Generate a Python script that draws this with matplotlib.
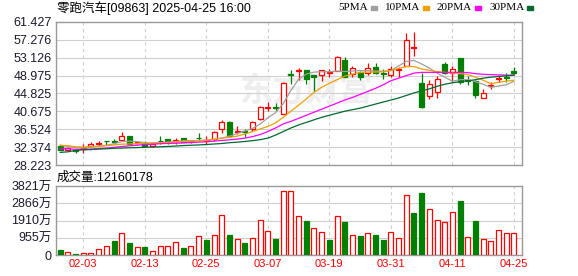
import matplotlib
matplotlib.use("Agg")
import matplotlib.pyplot as plt
import numpy as np

plt.rcParams['font.family'] = ['Liberation Sans', 'Noto Sans CJK SC']

title = "零跑汽车[09863] 2025-04-25 16:00"
vol_title = "成交量:12160178"

opens = [32.6, 31.7, 31.6, 31.9, 32.6, 33.0, 33.9, 33.7, 34.0, 34.9,
         33.3, 33.4, 32.6, 33.85, 34.2, 33.8, 34.4, 33.55, 34.5, 33.9,
         34.2, 36.5, 38.2, 35.9, 36.1, 36.5, 38.9, 41.5, 41.8, 40.1,
         49.4, 50.0, 50.3, 49.1, 49.1, 49.6, 50.0, 52.5, 49.3, 49.9,
         49.5, 51.0, 49.5, 49.1, 50.2, 51.3, 55.5, 47.3, 44.2, 45.1,
         51.7, 49.5, 53.0, 48.0, 47.7, 43.8, 46.5, 48.1, 48.6, 50.1]
highs = [32.8, 32.4, 31.9, 33.0, 33.5, 33.8, 33.9, 34.2, 35.8, 34.9,
         33.9, 33.9, 33.2, 35.0, 34.2, 34.5, 34.5, 33.8, 35.7, 34.9,
         36.1, 38.6, 38.5, 37.3, 36.5, 38.5, 41.9, 42.8, 42.6, 47.5,
         50.3, 50.8, 50.3, 49.1, 50.3, 50.6, 53.6, 53.2, 51.3, 50.0,
         51.8, 52.0, 50.5, 51.3, 51.0, 58.8, 59.1, 49.7, 47.9, 48.9,
         52.1, 51.2, 53.0, 48.8, 47.9, 45.9, 47.6, 48.8, 49.7, 51.0]
lows = [31.7, 31.6, 31.0, 31.1, 32.4, 32.7, 32.9, 33.0, 33.9, 33.1,
        33.0, 32.5, 32.5, 33.2, 33.1, 33.2, 33.5, 33.4, 33.7, 33.0,
        33.8, 35.7, 34.9, 35.5, 34.7, 36.1, 38.6, 40.8, 40.8, 40.1,
        47.1, 48.0, 47.1, 45.4, 47.7, 48.7, 50.0, 48.7, 48.7, 47.9,
        49.1, 49.3, 48.2, 48.7, 48.7, 51.3, 53.6, 41.5, 43.6, 43.7,
        49.3, 47.5, 47.1, 46.9, 43.7, 43.8, 45.9, 47.4, 47.5, 49.1]
closes = [31.8, 32.2, 31.5, 32.1, 33.2, 33.3, 33.8, 33.6, 35.0, 33.1,
          33.6, 32.6, 33.1, 33.75, 33.8, 34.0, 33.6, 33.7, 34.4, 34.1,
          35.8, 38.2, 34.9, 36.2, 35.9, 38.2, 41.6, 41.8, 41.5, 47.3,
          49.2, 50.3, 48.2, 48.7, 50.3, 49.8, 53.2, 48.7, 50.7, 48.7,
          50.8, 49.6, 49.3, 50.5, 50.6, 57.3, 55.7, 41.8, 47.1, 48.3,
          49.7, 50.4, 47.5, 47.8, 44.5, 45.0, 46.8, 48.4, 48.45, 49.5]
prev_close = 32.5

# volume in 万股
volumes = [277, 166, 55, 111, 111, 332, 499, 776, 1200, 665,
           425, 443, 203, 480, 480, 720, 388, 480, 1034, 831,
           1090, 2198, 1108, 868, 665, 924, 1921, 1311, 868, 3528,
           3528, 2143, 1884, 1478, 1256, 831, 2143, 1829, 1090, 1053,
           1219, 1090, 831, 1256, 924, 3306, 2327, 3417, 2530, 1921,
           1810, 2364, 2992, 979, 1884, 868, 757, 1367, 1201, 1216]

ma5 = [32.86, 32.53, 32.27, 32.15, 32.34, 32.58, 32.81, 33.17, 33.64, 33.76,
       33.64, 33.40, 33.28, 33.40, 33.52, 33.64, 33.87, 33.87, 33.87, 33.99,
       34.16, 34.46, 34.93, 35.52, 36.11, 36.71, 37.76, 39.18, 40.36, 42.48,
       45.55, 48.15, 49.32, 49.80, 49.87, 49.87, 50.03, 49.92, 50.03, 50.15,
       50.15, 50.03, 49.99, 50.15, 51.21, 52.29, 52.51, 51.68, 50.74, 49.56,
       48.62, 47.67, 48.03, 48.08, 47.56, 46.97, 46.26, 46.57, 46.85, 47.67]
ma10 = [32.74, 32.69, 32.46, 32.41, 32.46, 32.58, 32.69, 32.88, 33.05, 33.12,
        33.17, 33.28, 33.35, 33.40, 33.47, 33.52, 33.64, 33.76, 33.87, 33.99,
        34.23, 34.46, 34.63, 34.93, 35.41, 35.99, 36.59, 37.17, 38.00, 39.30,
        40.71, 42.13, 43.55, 45.08, 46.26, 47.20, 48.03, 48.85, 49.32, 49.68,
        49.80, 49.80, 49.87, 50.15, 50.62, 51.09, 51.09, 50.51, 50.20, 49.92,
        49.73, 49.56, 49.44, 49.21, 48.62, 47.91, 47.08, 47.44, 47.67, 47.91]
ma20 = [31.99, 31.99, 31.87, 31.87, 31.92, 32.03, 32.15, 32.34, 32.51, 32.69,
        32.81, 32.98, 33.05, 33.17, 33.24, 33.28, 33.35, 33.45, 33.52, 33.64,
        33.76, 33.92, 34.06, 34.23, 34.46, 34.82, 35.29, 35.99, 36.82, 37.76,
        38.35, 39.06, 39.77, 40.48, 41.19, 41.89, 42.60, 43.31, 43.90, 44.61,
        45.31, 46.02, 46.85, 47.79, 48.38, 48.97, 49.56, 49.73, 49.73, 49.73,
        49.73, 49.73, 49.73, 49.68, 49.44, 49.28, 49.21, 49.14, 49.09, 49.09]
ma30 = [31.16, 31.28, 31.63, 31.75, 31.80, 31.92, 31.99, 32.10, 32.15, 32.22,
        32.27, 32.34, 32.39, 32.46, 32.53, 32.62, 32.74, 32.81, 32.88, 32.98,
        33.10, 33.21, 33.40, 33.52, 33.68, 33.87, 34.11, 34.46, 35.17, 35.99,
        36.82, 37.53, 38.12, 38.71, 39.30, 39.77, 40.24, 40.71, 41.07, 41.42,
        41.89, 42.37, 42.84, 43.31, 43.78, 44.37, 44.96, 45.43, 45.90, 46.49,
        46.97, 47.32, 47.56, 47.79, 48.03, 48.38, 48.62, 48.78, 48.92, 49.09]

date_ticks = [3, 11, 19, 27, 35, 43, 51, 59]
date_labels = ["02-03", "02-13", "02-25", "03-07", "03-19", "03-31", "04-11", "04-25"]
price_ticks = [28.223, 32.374, 36.524, 40.675, 44.825, 48.975, 53.126, 57.276, 61.427]
vol_ticks = [0, 955, 1910, 2866, 3821]
vol_labels = ["0", "955万", "1910万", "2866万", "3821万"]

ma_names = ["5PMA", "10PMA", "20PMA", "30PMA"]
ma_colors = ["#a0a0a0", "#f0a000", "#ff00ff", "#006a30"]

RED = "#ff0000"
GREEN = "#008000"
GRID = "#d0d0d0"
FRAME = "#999999"

fig = plt.figure(figsize=(5.78, 2.76), dpi=100)
ax = fig.add_axes([56 / 578, 1 - 165 / 276, 466 / 578, 143 / 276])
axv = fig.add_axes([56 / 578, 1 - 255 / 276, 466 / 578, 69 / 276])

x = np.arange(len(opens))
o = np.array(opens); c = np.array(closes)
h = np.array(highs); l = np.array(lows)
up = c >= o
w = 0.65

for a in (ax, axv):
    a.set_xlim(-0.55, len(opens) + 0.05)
    for s in a.spines.values():
        s.set_color(FRAME)
        s.set_linewidth(1)
    a.set_xticks(date_ticks)
    for t in date_ticks:
        a.axvline(t, color=GRID, lw=0.8, ls=(0, (3, 3)), zorder=0)
    a.tick_params(length=0, pad=3)

# watermark
ax.text(32, 45.2, "东方财富", fontsize=24, color="#eeeeee", weight="bold",
        ha="center", va="center", zorder=0, family=['Noto Sans CJK SC'], style='italic')

ax.set_ylim(price_ticks[0], price_ticks[-1])
ax.set_yticks(price_ticks)
ax.set_yticklabels([f"{v:.3f}" for v in price_ticks], fontsize=9, color="#1a1a2e")
for v in price_ticks[1:-1]:
    ax.axhline(v, color=GRID, lw=0.8, zorder=0)
ax.set_xticklabels([])

# candles
col = np.where(up, RED, GREEN)
ax.vlines(x, l, h, colors=col, lw=0.9, zorder=2)
body_lo = np.minimum(o, c)
body_h = np.maximum(np.abs(c - o), 0.08)
face = np.where(up, "white", GREEN)
ax.bar(x, body_h, w, bottom=body_lo, color=face, edgecolor=col, lw=0.9, zorder=3)

for vals, cl in zip([ma5, ma10, ma20, ma30], ma_colors):
    ax.plot(x, vals, color=cl, lw=0.9, zorder=4)

# volume
prev = np.concatenate([[prev_close], c[:-1]])
vup = c >= prev
vcol = np.where(vup, RED, GREEN)
vface = np.where(vup, "white", GREEN)
axv.bar(x, volumes, w, color=vface, edgecolor=vcol, lw=0.9, zorder=3)
axv.set_ylim(0, vol_ticks[-1])
axv.set_yticks(vol_ticks)
axv.set_yticklabels(vol_labels, fontsize=9, color="#1a1a2e")
for v in vol_ticks[1:-1]:
    axv.axhline(v, color=GRID, lw=0.8, zorder=0)
axv.set_xticklabels(date_labels, fontsize=8, color=RED)

# header texts
fig.text(57 / 578, 1 - 8 / 276, title, fontsize=9, va="center", ha="left")
fig.text(57 / 578, 1 - 178 / 276, vol_title, fontsize=9, va="center", ha="left")

lx = 338
for name, cl in zip(ma_names, ma_colors):
    t = fig.text(lx / 578, 1 - 8 / 276, name, fontsize=8, va="center", ha="left",
                 family=['Liberation Serif'])
    fig.canvas.draw()
    bb = t.get_window_extent()
    sx = bb.x1 + 3
    fig.patches.append(plt.Rectangle((sx / 578, 1 - 10 / 276), 6 / 578, 4 / 276,
                                     transform=fig.transFigure, color=cl, figure=fig))
    lx = sx + 14

fig.savefig("out.png", dpi=100)
